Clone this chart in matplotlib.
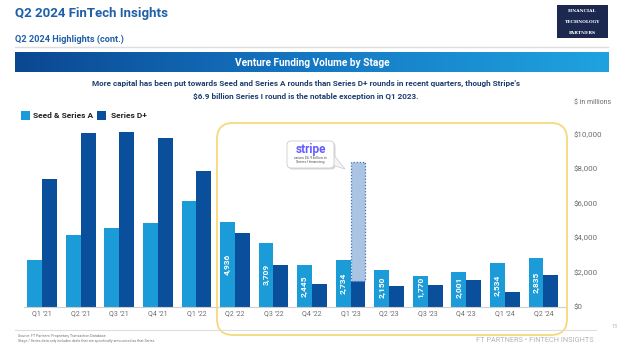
import numpy as np
import matplotlib
matplotlib.use('Agg')
import matplotlib.pyplot as plt
from matplotlib.patches import FancyBboxPatch, Rectangle, Polygon

plt.rcParams['font.family'] = ['Roboto', 'DejaVu Sans']

quarters = ["Q1 '21", "Q2 '21", "Q3 '21", "Q4 '21", "Q1 '22", "Q2 '22", "Q3 '22",
            "Q4 '22", "Q1 '23", "Q2 '23", "Q3 '23", "Q4 '23", "Q1 '24", "Q2 '24"]
seed_a = [2700, 4190, 4540, 4870, 6140, 4936, 3709, 2445, 2734, 2150, 1770, 2001, 2534, 2835]
series_d = [7410, 10050, 10130, 9780, 7850, 4290, 2420, 1340, 1490, 1200, 1260, 1550, 880, 1840]
labelled_from = 5          # value labels shown from Q2 '22 on
stripe_idx = 8
stripe_round = 6900
yticks = [0, 2000, 4000, 6000, 8000, 10000]

c_seed = '#1b9bd7'
c_d = '#0a4f9c'
c_title = '#1f5fa8'
c_gray = '#6d6d6d'

fig = plt.figure(figsize=(6.24, 3.5), dpi=100)
fig.patch.set_facecolor('white')

# header
fig.text(0.024, 0.962, 'Q2 2024 FinTech Insights', fontsize=9.5, fontweight='bold',
         color=c_title, va='center')
fig.text(0.024, 0.887, 'Q2 2024 Highlights (cont.)', fontsize=6.6, fontweight='bold',
         color=c_title, va='center')
fig.add_artist(Rectangle((5.57, 3.12), 0.51, 0.33, transform=fig.dpi_scale_trans,
                         facecolor='#1d2850', edgecolor='none'))
for k, t in enumerate(['FINANCIAL', 'TECHNOLOGY', 'PARTNERS']):
    fig.text(5.825 / 6.24, (3.385 - k * 0.105) / 3.5, t, fontsize=3.2, color='white',
             family='DejaVu Serif', fontweight='bold', ha='center', va='center')
fig.add_artist(plt.Line2D([0.024, 0.975], [0.866, 0.866], color='#dddddd', lw=1))

# banner with gradient
bax = fig.add_axes([15 / 624, 1 - 72 / 350, 594 / 624, 20 / 350])
grad = np.linspace(0, 1, 256).reshape(1, -1)
cmap = matplotlib.colors.LinearSegmentedColormap.from_list('b', ['#0b4791', '#1578c4', '#1fa3df'])
bax.imshow(grad, aspect='auto', cmap=cmap, extent=[0, 1, 0, 1])
bax.axis('off')
bax.text(0.5, 0.45, 'Venture Funding Volume by Stage', color='white', fontsize=7.3,
         fontweight='bold', ha='center', va='center', transform=bax.transAxes)

fig.text(0.49, 1 - 83 / 350, "More capital has been put towards Seed and Series A rounds than Series D+ rounds in recent quarters, though Stripe's",
         fontsize=5.85, fontweight='bold', color='#1d3f6e', ha='center', va='center')
fig.text(0.49, 1 - 97 / 350, '$6.9 billion Series I round is the notable exception in Q1 2023.',
         fontsize=5.85, fontweight='bold', color='#1d3f6e', ha='center', va='center')
fig.text(0.92, 1 - 103 / 350, '$ in millions', fontsize=5, color=c_gray, ha='left', va='center')

# legend
fig.add_artist(Rectangle((0.21, 3.5 - 1.20), 0.09, 0.09, transform=fig.dpi_scale_trans,
                         facecolor=c_seed, edgecolor='none'))
fig.text(0.33 / 6.24, 1 - 115.5 / 350, 'Seed & Series A', fontsize=6, fontweight='bold',
         color='#222222', va='center')
fig.add_artist(Rectangle((0.97, 3.5 - 1.20), 0.09, 0.09, transform=fig.dpi_scale_trans,
                         facecolor=c_d, edgecolor='none'))
fig.text(1.11 / 6.24, 1 - 115.5 / 350, 'Series D+', fontsize=6, fontweight='bold',
         color='#222222', va='center')

# highlight box for recent quarters
fig.add_artist(FancyBboxPatch((2.17, 0.15), 3.50, 2.12, transform=fig.dpi_scale_trans,
                              boxstyle='round,pad=0,rounding_size=0.16',
                              facecolor='none', edgecolor='#f6d97a', lw=1.3))

# chart
ax = fig.add_axes([24 / 624, 1 - 307 / 350, 541 / 624, 0.519])
x = np.arange(len(quarters))
w = 0.385
ax.bar(x - w / 2, seed_a, w, color=c_seed, zorder=2)
ax.bar(x + w / 2, series_d, w, color=c_d, zorder=2)
ax.bar(x[stripe_idx] + w / 2, stripe_round, w, bottom=series_d[stripe_idx],
       color='#a9c5e3', edgecolor='#3f72b0', linestyle=(0, (1, 1.5)), lw=0.9, zorder=2)

for i in range(labelled_from, len(quarters)):
    v = seed_a[i]
    ax.text(x[i] - w / 2, max(v / 2, 1150), f'{v:,}', rotation=90, color='white',
            fontsize=6, fontweight='bold', ha='center', va='center', zorder=3)

ax.set_xlim(-0.47, 13.56)
ax.set_ylim(0, 10500)
ax.set_xticks(x)
ax.set_xticklabels(quarters, fontsize=5, color=c_gray)
ax.yaxis.tick_right()
ax.set_yticks(yticks)
ax.set_yticklabels([f'${v:,}' for v in yticks], fontsize=5.8, color=c_gray)
ax.tick_params(length=0, pad=2)
ax.tick_params(axis='y', pad=6)
for s in ['top', 'left', 'right']:
    ax.spines[s].set_visible(False)
ax.spines['bottom'].set_color('#cfcfcf')

# stripe callout
fig.add_artist(FancyBboxPatch((2.885, 1.805), 0.47, 0.27, transform=fig.dpi_scale_trans,
                              boxstyle='round,pad=0,rounding_size=0.04',
                              facecolor='#d9d9d9', edgecolor='none'))
fig.add_artist(Polygon([(3.25, 1.87), (3.45, 1.81), (3.33, 1.96)], closed=True,
                       transform=fig.dpi_scale_trans, facecolor='#f4f4f4',
                       edgecolor='#cccccc', lw=0.5))
fig.add_artist(FancyBboxPatch((2.87, 1.82), 0.47, 0.27, transform=fig.dpi_scale_trans,
                              boxstyle='round,pad=0,rounding_size=0.04',
                              facecolor='white', edgecolor='#cccccc', lw=0.6))
fig.text(3.105 / 6.24, 2.01 / 3.5, 'stripe', fontsize=8.5, fontweight='bold',
         color='#635bff', ha='center', va='center')
fig.text(3.105 / 6.24, 1.905 / 3.5, 'raises $6.9 billion in\nSeries I financing', fontsize=2.7,
         color='#555555', ha='center', va='center', linespacing=1.1)

# footer
fig.add_artist(plt.Line2D([0.024, 0.955], [1 - 330 / 350, 1 - 330 / 350], color='#dddddd', lw=0.8))
fig.text(0.029, 1 - 336 / 350, "Source: FT Partners' Proprietary Transaction Database",
         fontsize=2.6, color='#777777', va='center')
fig.text(0.029, 1 - 341 / 350, 'Stage / Series data only includes deals that are specifically announced as that Series',
         fontsize=2.6, color='#777777', va='center')
fig.text(0.952, 1 - 340 / 350, 'FT PARTNERS \u2022 FINTECH INSIGHTS', fontsize=5.3,
         color='#b5b5b5', ha='right', va='center')
fig.text(0.985, 1 - 327 / 350, '15', fontsize=4, color='#bbbbbb', ha='center', va='center')

fig.savefig('out.png', dpi=100)
